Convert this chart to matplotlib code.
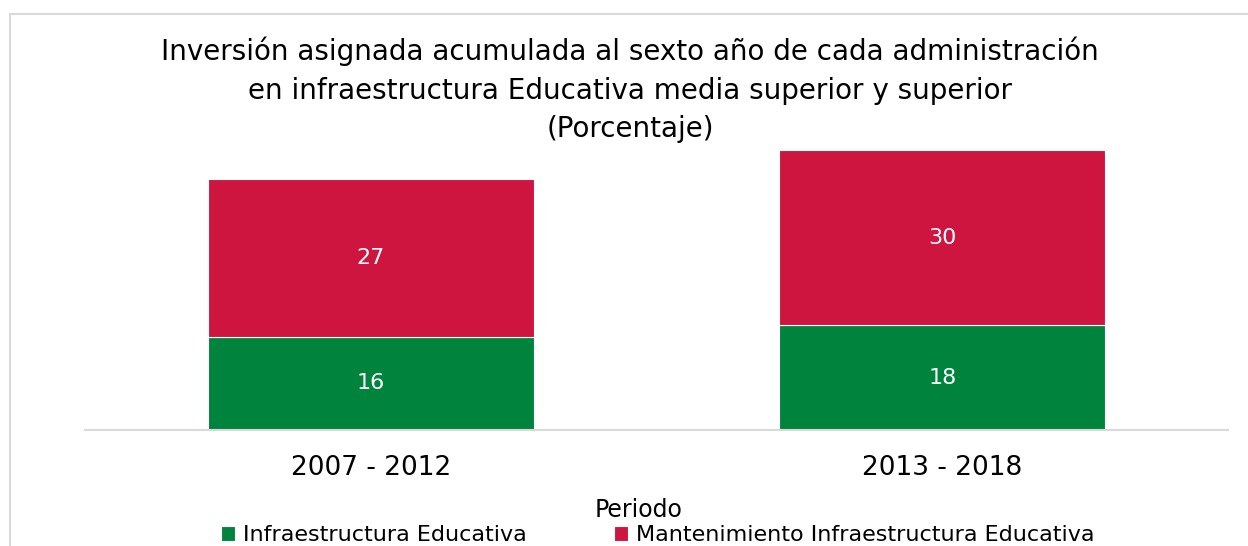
import matplotlib.pyplot as plt
from matplotlib.patches import Rectangle

periodos = ["2007 - 2012", "2013 - 2018"]
infraestructura = [16, 18]
mantenimiento = [27, 30]

verde = "#00843D"
rojo = "#CE1540"

plt.rcParams['font.family'] = ['DejaVu Sans']

fig = plt.figure(figsize=(12.48, 5.46), dpi=100)
ax = fig.add_axes([85 / 1248, 116 / 546, 1143 / 1248, 280 / 546])

x = range(len(periodos))
b1 = ax.bar(x, infraestructura, width=0.57, color=verde, edgecolor="white", linewidth=0.8,
            label="Infraestructura Educativa")
b2 = ax.bar(x, mantenimiento, width=0.57, bottom=infraestructura, color=rojo,
            edgecolor="white", linewidth=0.8, label="Mantenimiento Infraestructura Educativa")
ax.bar_label(b1, labels=[str(v) for v in infraestructura], label_type="center",
             color="white", fontsize=16)
ax.bar_label(b2, labels=[str(v) for v in mantenimiento], label_type="center",
             color="white", fontsize=16)

ax.set_xlim(-0.5, 1.5)
ax.set_ylim(0, 48)
ax.set_yticks([])
ax.set_xticks(list(x))
ax.set_xticklabels(periodos, fontsize=19)
ax.tick_params(axis="x", length=0, pad=18)
for s in ["top", "right", "left"]:
    ax.spines[s].set_visible(False)
ax.spines["bottom"].set_color("#D9D9D9")
ax.spines["bottom"].set_linewidth(1.5)

fig.text(0.505, 0.933, "Inversión asignada acumulada al sexto año de cada administración\n"
         "en infraestructura Educativa media superior y superior\n(Porcentaje)",
         ha="center", va="top", fontsize=20, linespacing=1.48)

fig.text(0.512, 0.066, "Periodo", ha="center", va="center", fontsize=17)
fig.legend(handles=[b1, b2], loc="center", bbox_to_anchor=(0.527, 0.02), ncol=2,
           frameon=False, fontsize=16, handlelength=0.65, handleheight=0.65,
           handletextpad=0.35, columnspacing=3.9)

fig.patches.append(Rectangle((10 / 1248, -0.1), 1.1, 1.1 - 14 / 546,
                             transform=fig.transFigure, fill=False,
                             edgecolor="#D9D9D9", linewidth=1.5))

fig.savefig("out.png", dpi=100)
